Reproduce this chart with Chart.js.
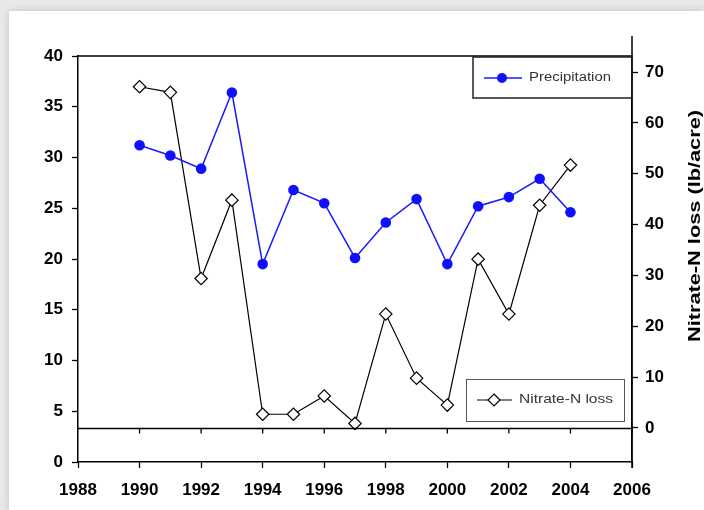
<!DOCTYPE html>
<html>
<head>
<meta charset="utf-8">
<script src="https://cdn.jsdelivr.net/npm/chart.js@4.4.1/dist/chart.umd.min.js"></script>
<style>
  html, body { margin: 0; padding: 0; }
  body { width: 704px; height: 510px; background: #e9e9e9; position: relative; overflow: hidden; }
  #card { position: absolute; left: 9px; top: 11px; right: 0; bottom: 0; background: #fff;
          box-shadow: 0 0 8px rgba(0,0,0,0.18); }
  #wrap { position: absolute; left: 0; top: 0; width: 704px; height: 510px; }
</style>
</head>
<body>
<div id="card"></div>
<div id="wrap"><canvas id="nitrateChart" width="704" height="510"></canvas></div>
<script>
// years on the x axis
var years = [1990, 1991, 1992, 1993, 1994, 1995, 1996, 1997, 1998, 1999, 2000, 2001, 2002, 2003, 2004];
// precipitation, left axis
var precipitation = [31.2, 30.2, 28.9, 36.4, 19.5, 26.8, 25.5, 20.1, 23.6, 25.9, 19.5, 25.2, 26.1, 27.9, 24.6];
// nitrate-N loss (lb/acre), right axis
var nitrateLoss = [67.1, 66.0, 29.4, 44.8, 2.7, 2.7, 6.3, 0.9, 22.4, 9.8, 4.5, 33.2, 22.4, 43.8, 51.7];

var seriesNames = ["Precipitation", "Nitrate-N loss"];
var rightTitle = "Nitrate-N loss (lb/acre)";

function toPoints(vals) {
    return years.map(function (y, i) { return {x: y, y: vals[i]}; });
}

var tickFont = {family: "'Liberation Sans', Arial, sans-serif", size: 17, weight: 'bold'};

// extra Excel-like bits: top border, long right axis, zero line of right axis, legend boxes, right title
var extras = {
    id: 'extras',
    afterDraw: function (chart) {
        var ctx = chart.ctx;
        var a = chart.chartArea;
        var xs = chart.scales.x;
        var yr = chart.scales.y1;
        ctx.save();
        ctx.strokeStyle = '#000';
        ctx.lineWidth = 1.5;
        // top border
        ctx.beginPath();
        ctx.moveTo(a.left, a.top);
        ctx.lineTo(a.right, a.top);
        ctx.stroke();
        // right axis longer than plot
        ctx.beginPath();
        ctx.moveTo(a.right, a.top - 20);
        ctx.lineTo(a.right, a.bottom + 6);
        ctx.stroke();
        // secondary x axis at right-axis zero
        var y0 = Math.round(yr.getPixelForValue(0)) + 0.5;
        ctx.lineWidth = 1.3;
        ctx.beginPath();
        ctx.moveTo(a.left, y0);
        ctx.lineTo(a.right, y0);
        for (var yy = 1990; yy <= 2006; yy += 2) {
            var px = xs.getPixelForValue(yy);
            ctx.moveTo(px, y0);
            ctx.lineTo(px, y0 + 5);
        }
        ctx.stroke();

        // legend boxes
        function stretchedText(txt, x, y, w, size, weight, color) {
            ctx.save();
            ctx.font = (weight || '') + ' ' + size + "px 'Liberation Sans', Arial, sans-serif";
            ctx.fillStyle = color;
            ctx.textBaseline = 'middle';
            var m = ctx.measureText(txt).width;
            ctx.translate(x, y);
            ctx.scale(w / m, 1);
            ctx.fillText(txt, 0, 0);
            ctx.restore();
        }
        // Precipitation
        ctx.lineWidth = 1.5;
        ctx.strokeStyle = '#222';
        ctx.strokeRect(473, 57, 159, 41);
        ctx.strokeStyle = '#1a1aff';
        ctx.lineWidth = 1.5;
        ctx.beginPath();
        ctx.moveTo(484, 78); ctx.lineTo(522, 78); ctx.stroke();
        ctx.fillStyle = '#1010ff';
        ctx.beginPath(); ctx.arc(502, 78, 5, 0, Math.PI * 2); ctx.fill();
        stretchedText(seriesNames[0], 529, 78, 82, 12, '', '#333');
        // Nitrate-N loss
        ctx.lineWidth = 1;
        ctx.strokeStyle = '#555';
        ctx.strokeRect(466.5, 379.5, 158, 42);
        ctx.strokeStyle = '#000';
        ctx.lineWidth = 1.2;
        ctx.beginPath();
        ctx.moveTo(477, 400); ctx.lineTo(512, 400); ctx.stroke();
        ctx.fillStyle = '#fff';
        ctx.beginPath();
        ctx.moveTo(494, 394); ctx.lineTo(500, 400); ctx.lineTo(494, 406); ctx.lineTo(488, 400); ctx.closePath();
        ctx.fill(); ctx.stroke();
        stretchedText(seriesNames[1], 519, 400, 94, 12, '', '#333');

        // right axis title, rotated
        ctx.save();
        ctx.translate(695, 226);
        ctx.rotate(-Math.PI / 2);
        ctx.font = "bold 17px 'Liberation Sans', Arial, sans-serif";
        var tw = ctx.measureText(rightTitle).width;
        ctx.scale(232 / tw, 1);
        ctx.fillStyle = '#000';
        ctx.textAlign = 'center';
        ctx.textBaseline = 'middle';
        ctx.fillText(rightTitle, 0, 0);
        ctx.restore();
        ctx.restore();
    }
};

var nitrateChart = new Chart(document.getElementById('nitrateChart'), {
    type: 'line',
    data: {
        datasets: [
            {
                label: seriesNames[0],
                data: toPoints(precipitation),
                yAxisID: 'y',
                borderColor: '#1a1aff',
                backgroundColor: '#1010ff',
                borderWidth: 1.5,
                pointRadius: 5.3,
                pointHoverRadius: 5.3,
                pointBorderWidth: 0,
                pointBackgroundColor: '#1010ff',
                tension: 0
            },
            {
                label: seriesNames[1],
                data: toPoints(nitrateLoss),
                yAxisID: 'y1',
                borderColor: '#000',
                borderWidth: 1.2,
                pointStyle: 'rectRot',
                pointRadius: 6.2,
                pointHoverRadius: 6.2,
                pointBorderWidth: 1.2,
                pointBorderColor: '#000',
                pointBackgroundColor: '#fff',
                tension: 0
            }
        ]
    },
    options: {
        responsive: false,
        animation: false,
        layout: {padding: {top: 56, left: 0, right: 0, bottom: 0}},
        plugins: {
            legend: {display: false},
            tooltip: {enabled: false}
        },
        scales: {
            x: {
                type: 'linear',
                min: 1988,
                max: 2006,
                afterFit: function (s) { s.height = 48; },
                ticks: {stepSize: 2, color: '#000', font: tickFont, padding: 12, maxRotation: 0,
                        callback: function (v) { return String(v); }},
                grid: {drawOnChartArea: false, drawTicks: true, tickLength: 6, tickColor: '#000', tickWidth: 1.3},
                border: {color: '#000', width: 1.5}
            },
            y: {
                position: 'left',
                min: 0,
                max: 40,
                afterFit: function (s) { s.width = 78; },
                ticks: {stepSize: 5, color: '#000', font: tickFont, padding: 9},
                grid: {drawOnChartArea: false, drawTicks: true, tickLength: 6, tickColor: '#000', tickWidth: 1.3},
                border: {color: '#000', width: 1.5}
            },
            y1: {
                position: 'right',
                min: -6.69,
                max: 73.15,
                afterFit: function (s) { s.width = 72; },
                afterBuildTicks: function (s) {
                    s.ticks = [0, 10, 20, 30, 40, 50, 60, 70].map(function (v) { return {value: v}; });
                },
                ticks: {color: '#000', font: tickFont, padding: 7},
                grid: {drawOnChartArea: false, drawTicks: true, tickLength: 6, tickColor: '#000', tickWidth: 1.3},
                border: {color: '#000', width: 1.5}
            }
        }
    },
    plugins: [extras]
});
</script>
</body>
</html>
